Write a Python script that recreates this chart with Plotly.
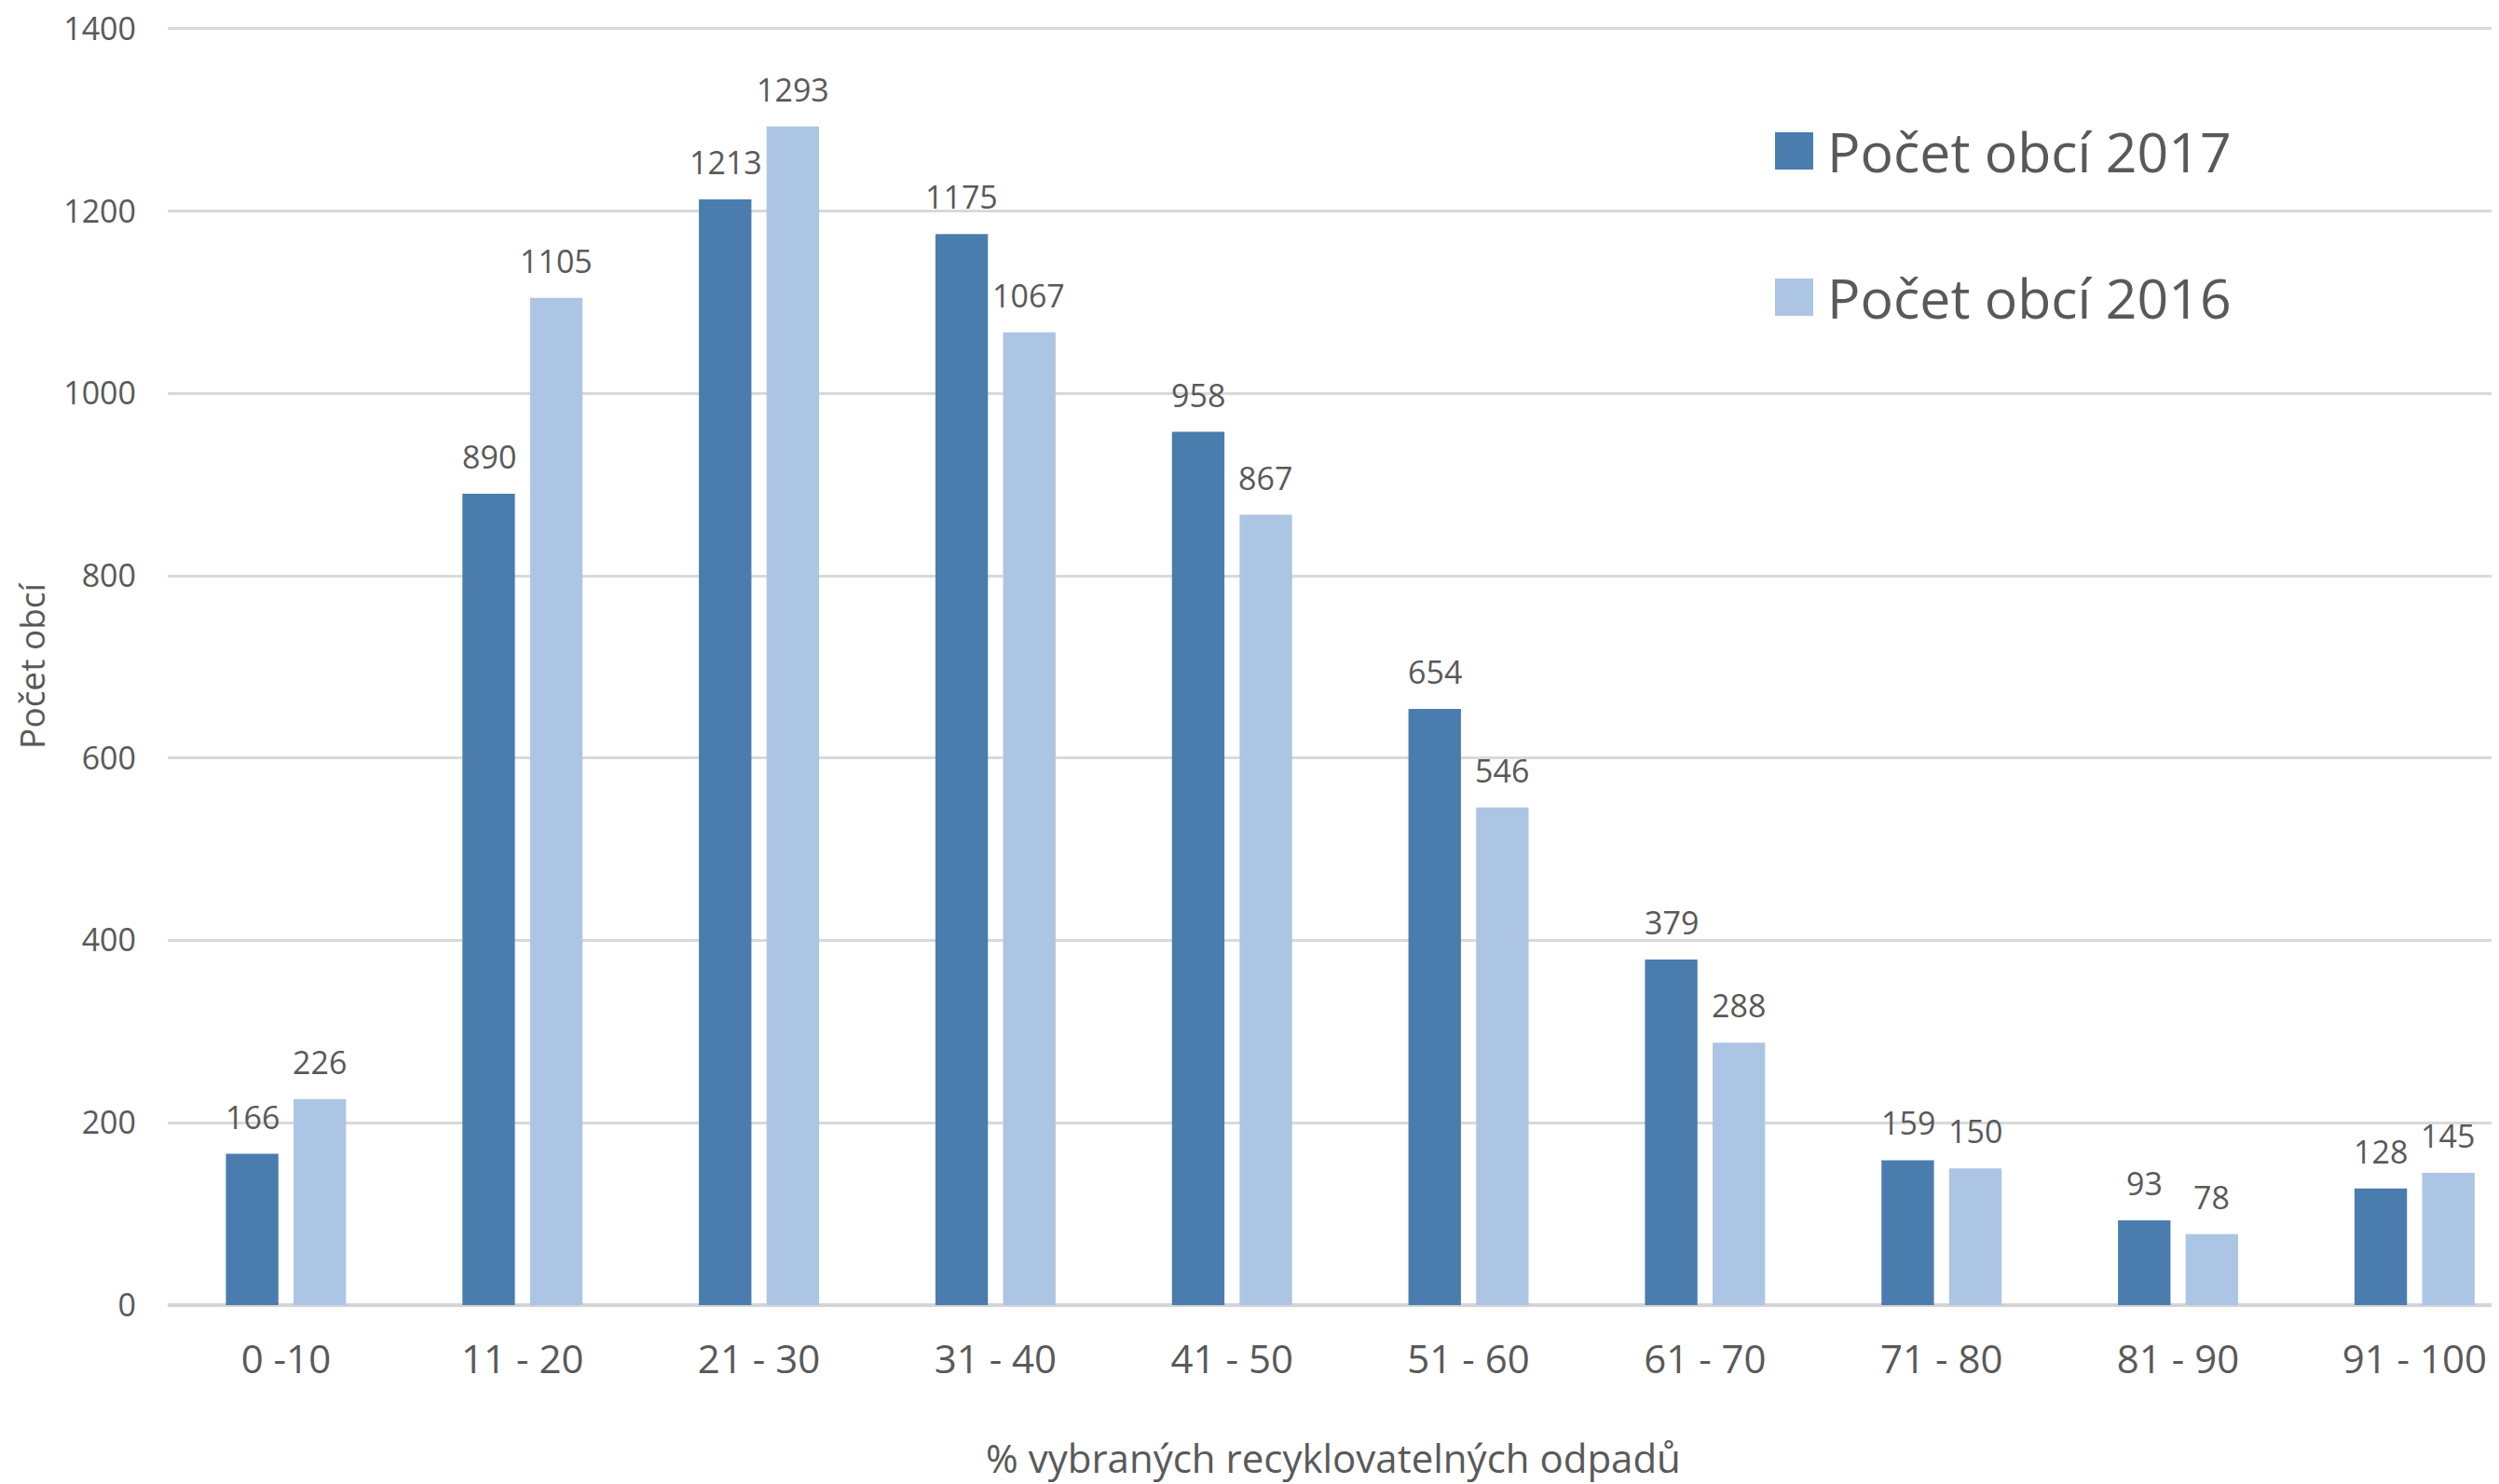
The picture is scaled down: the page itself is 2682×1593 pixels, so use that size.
import plotly.graph_objects as go

categories = ["0 -10", "11 - 20", "21 - 30", "31 - 40", "41 - 50",
              "51 - 60", "61 - 70", "71 - 80", "81 - 90", "91 - 100"]
obce_2017 = [166, 890, 1213, 1175, 958, 654, 379, 159, 93, 128]
obce_2016 = [226, 1105, 1293, 1067, 867, 546, 288, 150, 78, 145]
series_names = ["Počet obcí 2017", "Počet obcí 2016"]
y_ticks = [0, 200, 400, 600, 800, 1000, 1200, 1400]

DARK = "#4A7DAE"
LIGHT = "#ADC5E5"
TEXT = "#595959"
FONT = "Open Sans"

OFF = 8  # default page body margin
W, H = 2682, 1593
ML, MR, MT, MB = 172, 8, 21, 200
PW, PH = W - ML - MR, H - MT - MB

BAR_W = 0.222

fig = go.Figure()
fig.add_trace(go.Bar(x=categories, y=obce_2017, name=series_names[0],
                     marker=dict(color=DARK, line=dict(width=0)),
                     width=BAR_W, offset=-0.254, showlegend=False))
fig.add_trace(go.Bar(x=categories, y=obce_2016, name=series_names[1],
                     marker=dict(color=LIGHT, line=dict(width=0)),
                     width=BAR_W, offset=0.032, showlegend=False))

# data labels
for c, v in zip(categories, obce_2017):
    fig.add_annotation(x=c, y=v, text=str(v), showarrow=False, xshift=-36,
                       yshift=40, yanchor="middle",
                       font=dict(family=FONT, size=34, color=TEXT))
for c, v in zip(categories, obce_2016):
    fig.add_annotation(x=c, y=v, text=str(v), showarrow=False, xshift=36,
                       yshift=40, yanchor="middle",
                       font=dict(family=FONT, size=34, color=TEXT))

# custom legend (large squares)
def px_x(p):
    return (p - OFF - ML) / PW

def px_y(p):
    return (H - MB - (p - OFF)) / PH

legend_rows = [(series_names[0], DARK, 162), (series_names[1], LIGHT, 319)]
for name, col, cy in legend_rows:
    fig.add_shape(type="rect", xref="paper", yref="paper",
                  x0=px_x(1905), x1=px_x(1946), y0=px_y(cy + 20), y1=px_y(cy - 20),
                  fillcolor=col, line=dict(width=0))
    fig.add_annotation(xref="paper", yref="paper", x=px_x(1959), y=px_y(cy),
                       text=name, showarrow=False, xanchor="left", yanchor="middle",
                       font=dict(family=FONT, size=59, color=TEXT))

fig.update_layout(
    width=W, height=H,
    margin=dict(l=ML, r=MR, t=MT, b=MB, pad=0),
    plot_bgcolor="white", paper_bgcolor="white",
    barmode="overlay",
    showlegend=False,
    font=dict(family=FONT, color=TEXT),
)
fig.update_xaxes(
    type="category", range=[-0.5, 9.357], automargin=False,
    showgrid=False, showline=False, ticks="",
    tickfont=dict(family=FONT, size=42, color=TEXT),
    ticklabelstandoff=30,
    title=dict(text="% vybraných recyklovatelných odpadů",
               font=dict(family=FONT, size=42, color=TEXT), standoff=66),
)
fig.update_yaxes(
    range=[0, 1402], tickvals=y_ticks, automargin=False,
    showgrid=True, gridcolor="#D9D9D9", gridwidth=3,
    zeroline=True, zerolinecolor="#D4D4D4", zerolinewidth=4,
    showline=False, ticks="",
    tickfont=dict(family=FONT, size=34, color=TEXT),
    ticklabelstandoff=33, ticklabeloverflow="allow",
    title=dict(text="Počet obcí", font=dict(family=FONT, size=37, color=TEXT),
               standoff=12),
)

fig.write_html("out.html")
